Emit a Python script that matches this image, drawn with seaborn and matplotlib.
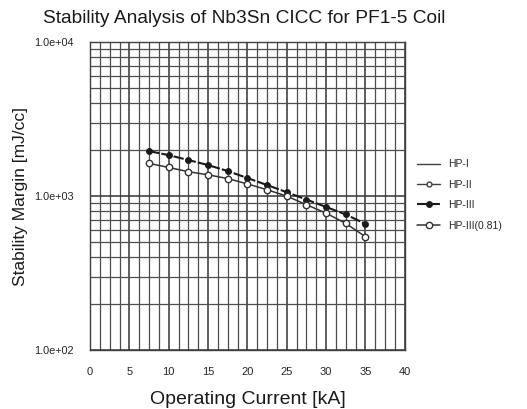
import numpy as np
import pandas as pd
import seaborn as sns
from matplotlib import pyplot as plt
from matplotlib.ticker import MultipleLocator, LogLocator, FuncFormatter

# === DATA
current = [7.5, 10, 12.5, 15, 17.5, 20, 22.5, 25, 27.5, 30, 32.5, 35]
hp3 = [1960, 1845, 1715, 1590, 1455, 1310, 1180, 1060, 950, 850, 760, 660]
hp3_081 = [1630, 1535, 1440, 1375, 1300, 1200, 1100, 1000, 880, 775, 665, 545]
legend_labels = ['HP-I', 'HP-II', 'HP-III', 'HP-III(0.81)']

db = pd.DataFrame({'current': current, 'hp3': hp3, 'hp3_081': hp3_081})

# === PLOT
sns.set_style('white')
plt.rcParams['font.family'] = ['Liberation Sans', 'DejaVu Sans']

fig = plt.figure(figsize=(5.27, 4.09), dpi=100)
ax = fig.add_axes([0.171, 0.144, 0.597, 0.753])

# HP-I and HP-II are not distinguishable in the picture: legend only
ax.plot([], [], color='0.25', lw=1.0, label=legend_labels[0])
ax.plot([], [], color='0.25', lw=1.0, marker='o', ms=3.5,
        mfc='white', mec='0.25', label=legend_labels[1])

sns.lineplot(x='current', y='hp3', data=db, ax=ax, color='0.1',
             lw=1.5, linestyle=(0, (5, 1)), marker='o', markersize=4.2,
             markerfacecolor='0.1', markeredgecolor='0.1',
             label=legend_labels[2])
sns.lineplot(x='current', y='hp3_081', data=db, ax=ax, color='0.2',
             lw=1.1, marker='o', markersize=4.6,
             markerfacecolor='white', markeredgecolor='0.2',
             markeredgewidth=1.0, label=legend_labels[3])

# Axes and grid
ax.set_yscale('log')
ax.set_xlim(0, 40)
ax.set_ylim(100, 10000)
ax.xaxis.set_major_locator(MultipleLocator(5))
ax.xaxis.set_minor_locator(MultipleLocator(1.25))
ax.yaxis.set_major_locator(LogLocator(base=10))
ax.yaxis.set_minor_locator(LogLocator(base=10, subs=np.arange(2, 10)))
ax.yaxis.set_major_formatter(FuncFormatter(lambda v, p: '%.1e' % v))
ax.yaxis.set_minor_formatter(FuncFormatter(lambda v, p: ''))

ax.grid(which='major', color='0.2', lw=1.1)
ax.grid(which='minor', color='0.3', lw=0.9)
ax.set_axisbelow(True)
for s in ax.spines.values():
    s.set_color('0.25')
    s.set_linewidth(1.0)

ax.tick_params(which='both', length=0)
ax.tick_params(axis='x', labelsize=8, pad=12, colors='0.15')
ax.tick_params(axis='y', labelsize=7.8, pad=12, colors='0.15')

ax.set_xlabel('Operating Current [kA]', fontsize=14, color='0.1', labelpad=10)
ax.set_ylabel('Stability Margin [mJ/cc]', fontsize=12.5, color='0.1', labelpad=4)
fig.suptitle('Stability Analysis of Nb3Sn CICC for PF1-5 Coil',
             fontsize=13.8, color='0.1', x=0.463, y=0.975)

ax.legend(loc='upper left', bbox_to_anchor=(1.01, 0.65), frameon=False,
          fontsize=7.5, handlelength=2.2, labelspacing=1.0,
          handletextpad=0.8, labelcolor='0.15')

plt.savefig('out.png', dpi=100)
